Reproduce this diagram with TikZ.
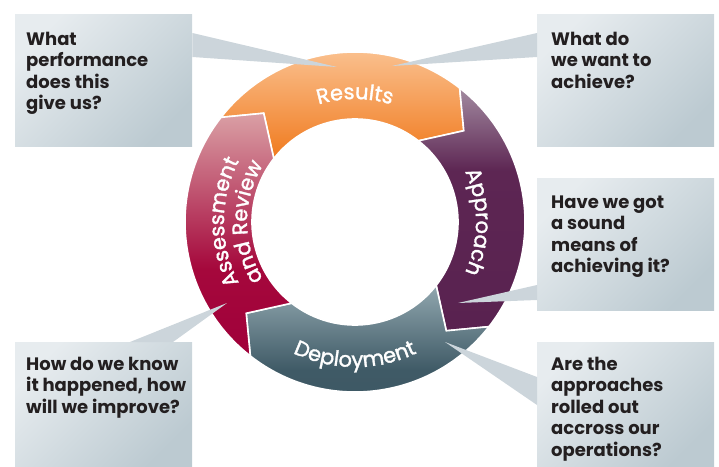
\documentclass[tikz,border=0pt]{standalone}
\usepackage{fontspec}
\setmainfont{Poppins}
\newfontfamily\ringfontface[FakeBold=1.6]{Poppins}
\newcommand\ringfont{\ringfontface\fontsize{21}{25}\selectfont}
\usetikzlibrary{decorations.text}

\definecolor{orangeTop}{HTML}{FCCDA3}
\definecolor{orangeBot}{HTML}{F07A1E}
\definecolor{plumTop}{HTML}{A28AA0}
\definecolor{plumMid}{HTML}{5D2653}
\definecolor{plumBot}{HTML}{592250}
\definecolor{slateTop}{HTML}{91A7AF}
\definecolor{slateMid}{HTML}{3F5A66}
\definecolor{slateBot}{HTML}{3D5763}
\definecolor{redTop}{HTML}{DAA0A5}
\definecolor{redMid}{HTML}{A5083C}
\definecolor{redBot}{HTML}{A0003A}
\definecolor{boxLight}{HTML}{E7ECEF}
\definecolor{boxDark}{HTML}{BCCAD1}
\definecolor{tailFill}{HTML}{CCD5DB}
\definecolor{ink}{HTML}{231F20}

% vertical shadings: the path's bounding box spans 25bp (bottom) to 75bp (top)
\pgfdeclareverticalshading{plumshade}{100bp}{color(0bp)=(plumBot); color(25bp)=(plumBot);
  color(58bp)=(plumMid); color(75bp)=(plumTop); color(100bp)=(plumTop)}
\pgfdeclareverticalshading{slateshade}{100bp}{color(0bp)=(slateBot); color(25bp)=(slateBot);
  color(42bp)=(slateMid); color(75bp)=(slateTop); color(100bp)=(slateTop)}
\pgfdeclareverticalshading{redshade}{100bp}{color(0bp)=(redBot); color(25bp)=(redBot);
  color(43bp)=(redMid); color(75bp)=(redTop); color(100bp)=(redTop)}

\tikzset{
  seg/.style={draw=white, line width=1.6pt, line join=miter},
  qbox/.style={top color=boxLight, bottom color=boxDark, shading angle=45,
    inner sep=0pt, anchor=north west, minimum width=177pt},
  qtext/.style={anchor=north west, align=left, inner sep=0pt, text=ink,
    font=\fontsize{18}{21.5}\selectfont\bfseries},
  tail/.style={fill=tailFill},
  ringlabel/.style={decorate, decoration={text along path, text align=center,
    text color=white, text={|\ringfont|#1}}}
}
\newcommand\firstline{\rule{0pt}{15pt}}

\begin{document}
\begin{tikzpicture}[x=1pt,y=1pt]
\useasboundingbox (-355,-244) rectangle (364,222);

% ring segments, drawn clockwise: each has a pointed head and a notched tail
\path[seg, top color=orangeTop, bottom color=orangeBot]
  (142:170) arc[start angle=142, end angle=52, radius=170] -- (40:142)
  -- (52:103) arc[start angle=52, end angle=142, radius=103] -- (130:142) -- cycle;
\path[seg, shading=plumshade]
  (52:170) arc[start angle=52, end angle=-38, radius=170] -- (-50:142)
  -- (-38:103) arc[start angle=-38, end angle=52, radius=103] -- (40:142) -- cycle;
\path[seg, shading=slateshade]
  (-38:170) arc[start angle=-38, end angle=-128, radius=170] -- (-140:142)
  -- (-128:103) arc[start angle=-128, end angle=-38, radius=103] -- (-50:142) -- cycle;
\path[seg, shading=redshade]
  (232:170) arc[start angle=232, end angle=142, radius=170] -- (130:142)
  -- (142:103) arc[start angle=142, end angle=232, radius=103] -- (220:142) -- cycle;

% curved segment labels
\path[ringlabel=Results] (130:123) arc[start angle=130, end angle=50, radius=123];
\path[ringlabel=Approach] (40:121) arc[start angle=40, end angle=-40, radius=121];
\path[ringlabel=Deployment] (-140:145) arc[start angle=-140, end angle=-40, radius=145];
\path[ringlabel=Assessment] (220:131) arc[start angle=220, end angle=140, radius=131];
\path[ringlabel=and Review] (220:108) arc[start angle=220, end angle=140, radius=108];

% question boxes
\node[qbox, minimum height=132pt] (q1) at (-340,208) {};
\node[qbox, minimum height=132pt] (q2) at (182,208) {};
\node[qbox, minimum height=132pt] (q3) at (182,44) {};
\node[qbox, minimum height=124pt] (q4) at (182,-120) {};
\node[qbox, minimum height=124pt] (q5) at (-340,-120) {};

% callout tips on the ring
\coordinate (t1) at (-18,155);
\coordinate (t2) at (37,156);
\coordinate (t3) at (103,-81);
\coordinate (t4) at (90,-120);
\coordinate (t5) at (-128,-81);

\fill[tail] ([yshift=-19]q1.north east) -- (t1) -- ([yshift=-43]q1.north east) -- cycle;
\fill[tail] ([yshift=-19]q2.north west) -- (t2) -- ([yshift=-43]q2.north west) -- cycle;
\fill[tail] ([yshift=-107]q3.north west) -- (t3) -- ([yshift=-122]q3.north west) -- cycle;
\fill[tail] ([yshift=-35]q4.north west) -- (t4) -- ([yshift=-63]q4.north west) -- cycle;
\fill[tail] ([xshift=115]q5.north west) -- (t5) -- ([xshift=158]q5.north west) -- cycle;

% question texts (first baseline 15pt below each node's top)
\node[qtext] (a1) at ([xshift=11, yshift=-16]q1.north west) {\firstline What\\performance\\does this\\give us?};
\node[qtext] (a2) at ([xshift=14, yshift=-16]q2.north west) {\firstline What do\\we want to\\achieve?};
\node[qtext] (a3) at ([xshift=14, yshift=-15]q3.north west) {\firstline Have we got\\a sound\\means of\\achieving it?};
\node[qtext] (a4) at ([xshift=14, yshift=-13]q4.north west) {\firstline Are the\\approaches\\rolled out\\accross our\\operations?};
\node[qtext] (a5) at ([xshift=11, yshift=-13]q5.north west) {\firstline How do we know\\it happened, how\\will we improve?};
\end{tikzpicture}
\end{document}
